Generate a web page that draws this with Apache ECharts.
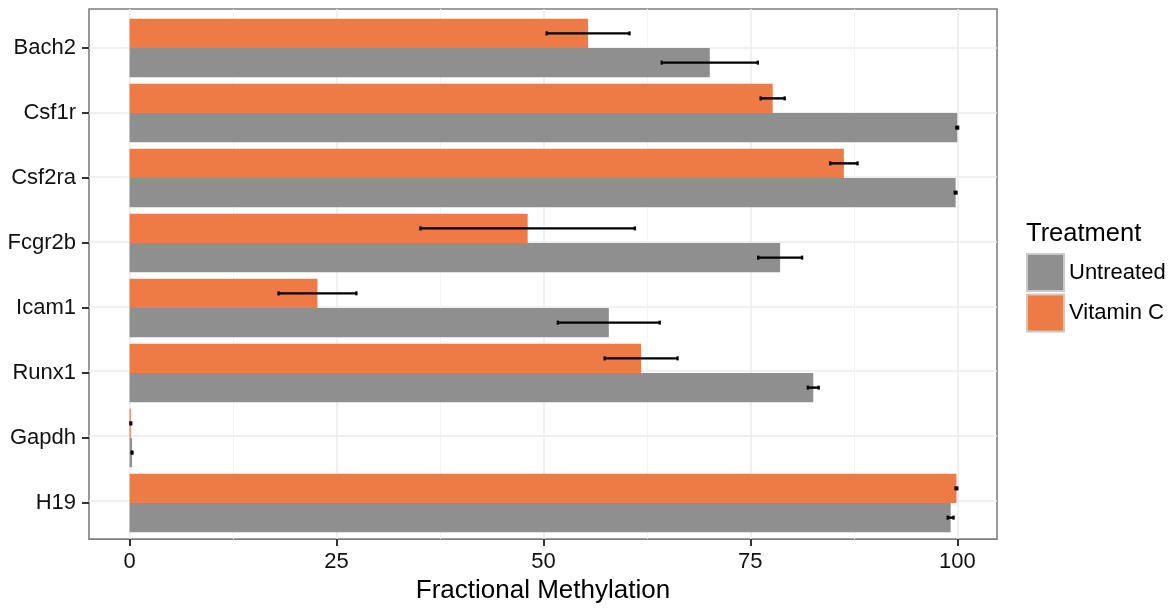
<!DOCTYPE html>
<html>
<head>
<meta charset="utf-8">
<script src="https://cdn.jsdelivr.net/npm/echarts@6/dist/echarts.min.js"></script>
<style>
  html, body { margin: 0; padding: 0; background: #fff; }
  #chart { width: 1175px; height: 609px; }
</style>
</head>
<body>
<div id="chart"></div>
<script>
// Genes, top to bottom
const genes = ['Bach2', 'Csf1r', 'Csf2ra', 'Fcgr2b', 'Icam1', 'Runx1', 'Gapdh', 'H19'];
// Mean fractional methylation (%) and standard error per gene
const untreatedMean = [70.1, 100.0, 99.8, 78.6, 57.9, 82.6, 0.3, 99.2];
const untreatedSE   = [5.8, 0.1, 0.1, 2.65, 6.15, 0.65, 0.05, 0.35];
const vitaminCMean  = [55.4, 77.7, 86.3, 48.1, 22.7, 61.8, 0.15, 99.9];
const vitaminCSE    = [5.0, 1.45, 1.65, 12.95, 4.7, 4.4, 0.05, 0.1];
const xTicks = [0, 25, 50, 75, 100];
const xMinorTicks = [12.5, 37.5, 62.5, 87.5];

const FONT = 'Liberation Sans';
const ORANGE = '#EE7A45';
const GREY = '#8F8F8F';
const XMIN = -4.9, XMAX = 104.8;

// Panel and bar area (discrete axis padded by 0.6 of a category on each side)
const PANEL = { left: 89, top: 9, width: 908, height: 533 };
const nCat = genes.length;
const span = nCat - 1 + 1.2;
const unit = PANEL.height / span;
const BARS = { left: PANEL.left, width: PANEL.width, top: PANEL.top + 0.1 * unit, height: nCat * unit };

const errData = [];
genes.forEach((g, i) => {
  errData.push([vitaminCMean[i], i, vitaminCSE[i], -1]);
  errData.push([untreatedMean[i], i, untreatedSE[i], 1]);
});

const chart = echarts.init(document.getElementById('chart'));
chart.setOption({
  animation: false,
  backgroundColor: '#fff',
  textStyle: { fontFamily: FONT },
  title: {
    text: 'Treatment',
    left: 1026, top: 221,
    padding: 0,
    textStyle: { fontFamily: FONT, fontSize: 25.5, fontWeight: 'normal', color: '#000' }
  },
  legend: {
    data: ['Untreated', 'Vitamin C'],
    orient: 'vertical',
    left: 1026, top: 253,
    padding: 0,
    itemWidth: 37, itemHeight: 37, itemGap: 1.5,
    icon: 'rect',
    itemStyle: { borderColor: '#C9C9C9', borderWidth: 2 },
    textStyle: { fontFamily: FONT, fontSize: 22, color: '#000' },
    selectedMode: false
  },
  grid: [
    { left: PANEL.left, top: PANEL.top, width: PANEL.width, height: PANEL.height,
      show: true, borderColor: '#7F7F7F', borderWidth: 1.6, backgroundColor: '#fff', z: 0 },
    { left: BARS.left, top: BARS.top, width: BARS.width, height: BARS.height }
  ],
  xAxis: [
    { type: 'value', gridIndex: 0, min: XMIN, max: XMAX,
      axisLine: { show: false, onZero: false },
      axisTick: { show: true, customValues: xTicks, length: 7, lineStyle: { color: '#333', width: 2 } },
      axisLabel: { customValues: xTicks, fontFamily: FONT, fontSize: 22, color: '#111', margin: 12 },
      splitLine: { show: true, customValues: xTicks, lineStyle: { color: '#EBEBEB', width: 1.5 } },
      name: 'Fractional Methylation', nameLocation: 'middle', nameGap: 38,
      nameTextStyle: { fontFamily: FONT, fontSize: 26, color: '#000', verticalAlign: 'top' }
    },
    { type: 'value', gridIndex: 0, min: XMIN, max: XMAX,
      axisLine: { show: false, onZero: false }, axisLabel: { show: false },
      axisTick: { show: false, customValues: xMinorTicks },
      splitLine: { show: true, customValues: xMinorTicks, lineStyle: { color: '#F4F4F4', width: 1 } }
    },
    { type: 'value', gridIndex: 1, min: XMIN, max: XMAX, show: false, axisLine: { onZero: false } }
  ],
  yAxis: [
    { type: 'value', gridIndex: 0, min: 0.4, max: nCat + 0.6,
      axisLine: { show: false, onZero: false }, axisLabel: { show: false },
      axisTick: { show: false, customValues: genes.map((g, i) => i + 1) },
      splitLine: { show: true, customValues: genes.map((g, i) => i + 1), lineStyle: { color: '#EBEBEB', width: 1.5 } }
    },
    { type: 'category', gridIndex: 1, data: genes, inverse: true,
      axisLine: { show: false, onZero: false },
      axisTick: { show: true, alignWithLabel: true, length: 7, lineStyle: { color: '#333', width: 2 } },
      axisLabel: { fontFamily: FONT, fontSize: 22, color: '#111', margin: 13 },
      splitLine: { show: false }
    }
  ],
  series: [
    { name: 'Vitamin C', type: 'bar', xAxisIndex: 2, yAxisIndex: 1,
      data: vitaminCMean, itemStyle: { color: ORANGE }, barWidth: '45%', barGap: '0%', z: 2 },
    { name: 'Untreated', type: 'bar', xAxisIndex: 2, yAxisIndex: 1,
      data: untreatedMean, itemStyle: { color: GREY }, barWidth: '45%', barGap: '0%', z: 2 },
    { name: 'errors', type: 'custom', xAxisIndex: 2, yAxisIndex: 1, z: 5,
      data: errData,
      encode: { x: 0, y: 1 },
      renderItem: function (params, api) {
        const mean = api.value(0), cat = api.value(1), se = api.value(2), side = api.value(3);
        const band = api.size([0, 1])[1];
        const lo = api.coord([mean - se, cat]);
        const hi = api.coord([mean + se, cat]);
        const y = lo[1] + side * band * 0.225;
        const cap = 2;
        const style = { stroke: '#000', lineWidth: 2.4 };
        return {
          type: 'group',
          children: [
            { type: 'line', shape: { x1: lo[0], y1: y, x2: hi[0], y2: y }, style: style },
            { type: 'line', shape: { x1: lo[0], y1: y - cap, x2: lo[0], y2: y + cap }, style: style },
            { type: 'line', shape: { x1: hi[0], y1: y - cap, x2: hi[0], y2: y + cap }, style: style }
          ]
        };
      }
    }
  ]
});
</script>
</body>
</html>
